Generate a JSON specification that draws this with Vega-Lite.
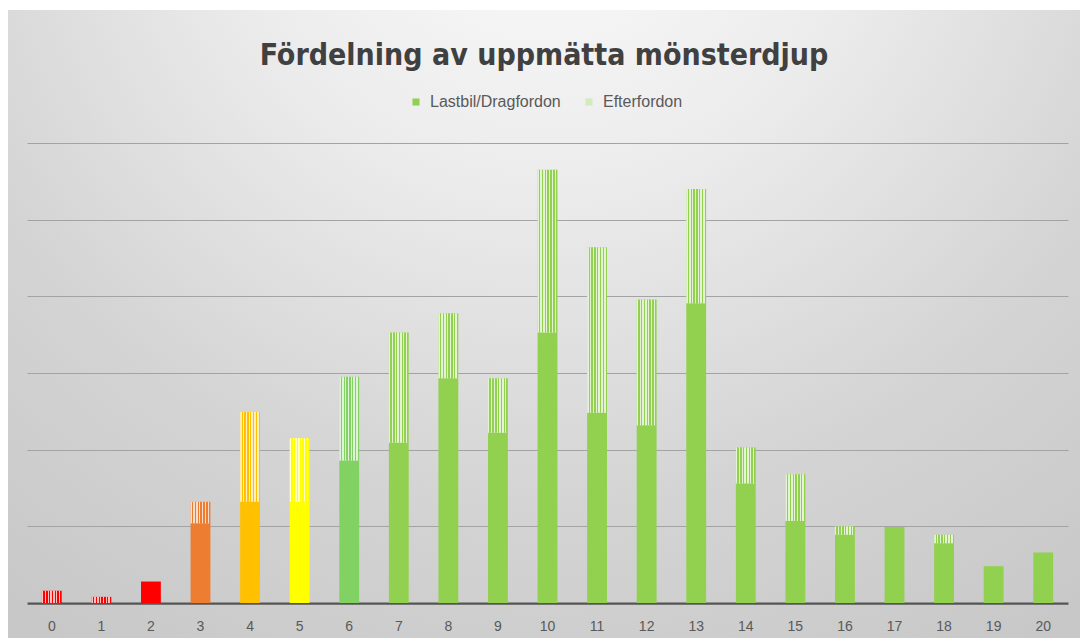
{
  "$schema": "https://vega.github.io/schema/vega-lite/v6.json",
  "width": 1072,
  "height": 628,
  "autosize": {"type": "none"},
  "padding": {"left": 8, "top": 10, "right": 0, "bottom": 0},
  "background": "#ffffff",
  "title": {
    "text": "Fördelning av uppmätta mönsterdjup",
    "font": "'DejaVu Sans Condensed', 'Liberation Sans Narrow', 'Open Sans', sans-serif",
    "fontSize": 30,
    "fontWeight": "bold",
    "color": "#404040",
    "anchor": "middle",
    "baseline": "alphabetic",
    "frame": "group",
    "offset": -85
  },
  "data": {
    "values": [
      {"djup": 0, "serie": "Lastbil/Dragfordon", "antal": 0},
      {"djup": 0, "serie": "Efterfordon", "antal": 1.6},
      {"djup": 1, "serie": "Lastbil/Dragfordon", "antal": 0},
      {"djup": 1, "serie": "Efterfordon", "antal": 0.8},
      {"djup": 2, "serie": "Lastbil/Dragfordon", "antal": 2.8},
      {"djup": 2, "serie": "Efterfordon", "antal": 0},
      {"djup": 3, "serie": "Lastbil/Dragfordon", "antal": 10.4},
      {"djup": 3, "serie": "Efterfordon", "antal": 2.8},
      {"djup": 4, "serie": "Lastbil/Dragfordon", "antal": 13.2},
      {"djup": 4, "serie": "Efterfordon", "antal": 11.7},
      {"djup": 5, "serie": "Lastbil/Dragfordon", "antal": 13.2},
      {"djup": 5, "serie": "Efterfordon", "antal": 8.3},
      {"djup": 6, "serie": "Lastbil/Dragfordon", "antal": 18.6},
      {"djup": 6, "serie": "Efterfordon", "antal": 10.9},
      {"djup": 7, "serie": "Lastbil/Dragfordon", "antal": 20.9},
      {"djup": 7, "serie": "Efterfordon", "antal": 14.4},
      {"djup": 8, "serie": "Lastbil/Dragfordon", "antal": 29.3},
      {"djup": 8, "serie": "Efterfordon", "antal": 8.5},
      {"djup": 9, "serie": "Lastbil/Dragfordon", "antal": 22.2},
      {"djup": 9, "serie": "Efterfordon", "antal": 7.1},
      {"djup": 10, "serie": "Lastbil/Dragfordon", "antal": 35.3},
      {"djup": 10, "serie": "Efterfordon", "antal": 21.2},
      {"djup": 11, "serie": "Lastbil/Dragfordon", "antal": 24.8},
      {"djup": 11, "serie": "Efterfordon", "antal": 21.6},
      {"djup": 12, "serie": "Lastbil/Dragfordon", "antal": 23.2},
      {"djup": 12, "serie": "Efterfordon", "antal": 16.4},
      {"djup": 13, "serie": "Lastbil/Dragfordon", "antal": 39.1},
      {"djup": 13, "serie": "Efterfordon", "antal": 14.9},
      {"djup": 14, "serie": "Lastbil/Dragfordon", "antal": 15.6},
      {"djup": 14, "serie": "Efterfordon", "antal": 4.7},
      {"djup": 15, "serie": "Lastbil/Dragfordon", "antal": 10.7},
      {"djup": 15, "serie": "Efterfordon", "antal": 6.1},
      {"djup": 16, "serie": "Lastbil/Dragfordon", "antal": 8.9},
      {"djup": 16, "serie": "Efterfordon", "antal": 1.1},
      {"djup": 17, "serie": "Lastbil/Dragfordon", "antal": 9.9},
      {"djup": 17, "serie": "Efterfordon", "antal": 0},
      {"djup": 18, "serie": "Lastbil/Dragfordon", "antal": 7.8},
      {"djup": 18, "serie": "Efterfordon", "antal": 1.1},
      {"djup": 19, "serie": "Lastbil/Dragfordon", "antal": 4.8},
      {"djup": 19, "serie": "Efterfordon", "antal": 0},
      {"djup": 20, "serie": "Lastbil/Dragfordon", "antal": 6.6},
      {"djup": 20, "serie": "Efterfordon", "antal": 0}
    ]
  },
  "transform": [
    {"stack": "antal", "groupby": ["djup"], "sort": [{"field": "serie", "order": "descending"}], "as": ["y0", "y1"]}
  ],
  "encoding": {
    "x": {
      "field": "djup",
      "type": "ordinal",
      "scale": {
        "domain": [0,1,2,3,4,5,6,7,8,9,10,11,12,13,14,15,16,17,18,19,20],
        "range": [19, 1060],
        "paddingInner": 0.6,
        "paddingOuter": 0.3
      },
      "axis": {
        "title": null,
        "labelAngle": 0,
        "labelFont": "Liberation Sans",
        "labelFontSize": 14,
        "labelColor": "#595959",
        "ticks": false,
        "labelPadding": 16,
        "domainColor": "#555555",
        "domainWidth": 2.25,
        "grid": false,
        "offset": -35
      }
    }
  },
  "layer": [
    {
      "transform": [{"filter": "datum.serie === 'Lastbil/Dragfordon'"}],
      "mark": {"type": "bar"},
      "encoding": {
        "y": {
          "field": "y0",
          "type": "quantitative",
          "scale": {"domain": [-4.565, 77.35], "nice": false, "zero": false},
          "axis": {
            "title": null,
            "labels": false,
            "ticks": false,
            "domain": false,
            "grid": true,
            "gridColor": "#a3a3a3",
            "gridWidth": 1,
            "values": [10, 20, 30, 40, 50, 60]
          }
        },
        "y2": {"field": "y1"},
        "fill": {
          "field": "djup",
          "type": "ordinal",
          "scale": {
            "domain": [0,1,2,3,4,5,6,7,8,9,10,11,12,13,14,15,16,17,18,19,20],
            "range": ["#FF0000","#FF0000","#FF0000","#ED7D31","#FFC000","#FFFF00","#82D163","#92D050","#92D050","#92D050","#92D050","#92D050","#92D050","#92D050","#92D050","#92D050","#92D050","#92D050","#92D050","#92D050","#92D050"]
          },
          "legend": null
        }
      }
    },
    {
      "transform": [{"filter": "datum.serie === 'Efterfordon'"}],
      "mark": {"type": "bar"},
      "encoding": {
        "y": {"field": "y0", "type": "quantitative"},
        "y2": {"field": "y1"},
        "fill": {"field": "djup", "type": "ordinal", "legend": null}
      }
    },
    {
      "transform": [{"filter": "datum.serie === 'Efterfordon'"}],
      "mark": {
        "type": "bar",
        "fill": {
          "gradient": "linear",
          "x1": 0, "y1": 0, "x2": 1, "y2": 0,
          "stops": [
            {"offset": 0, "color": "rgba(255,255,255,0.75)"},
            {"offset": 0.0714, "color": "rgba(255,255,255,0.75)"},
            {"offset": 0.0714, "color": "rgba(255,255,255,0)"},
            {"offset": 0.1429, "color": "rgba(255,255,255,0)"},
            {"offset": 0.1429, "color": "rgba(255,255,255,0.75)"},
            {"offset": 0.2143, "color": "rgba(255,255,255,0.75)"},
            {"offset": 0.2143, "color": "rgba(255,255,255,0)"},
            {"offset": 0.2857, "color": "rgba(255,255,255,0)"},
            {"offset": 0.2857, "color": "rgba(255,255,255,0.75)"},
            {"offset": 0.3571, "color": "rgba(255,255,255,0.75)"},
            {"offset": 0.3571, "color": "rgba(255,255,255,0)"},
            {"offset": 0.4286, "color": "rgba(255,255,255,0)"},
            {"offset": 0.4286, "color": "rgba(255,255,255,0.75)"},
            {"offset": 0.5, "color": "rgba(255,255,255,0.75)"},
            {"offset": 0.5, "color": "rgba(255,255,255,0)"},
            {"offset": 0.5714, "color": "rgba(255,255,255,0)"},
            {"offset": 0.5714, "color": "rgba(255,255,255,0.75)"},
            {"offset": 0.6429, "color": "rgba(255,255,255,0.75)"},
            {"offset": 0.6429, "color": "rgba(255,255,255,0)"},
            {"offset": 0.7143, "color": "rgba(255,255,255,0)"},
            {"offset": 0.7143, "color": "rgba(255,255,255,0.75)"},
            {"offset": 0.7857, "color": "rgba(255,255,255,0.75)"},
            {"offset": 0.7857, "color": "rgba(255,255,255,0)"},
            {"offset": 0.8571, "color": "rgba(255,255,255,0)"},
            {"offset": 0.8571, "color": "rgba(255,255,255,0.75)"},
            {"offset": 0.9286, "color": "rgba(255,255,255,0.75)"},
            {"offset": 0.9286, "color": "rgba(255,255,255,0)"},
            {"offset": 1, "color": "rgba(255,255,255,0)"}
          ]
        }
      },
      "encoding": {
        "y": {"field": "y0", "type": "quantitative"},
        "y2": {"field": "y1"}
      }
    },
    {
      "mark": {"type": "bar"},
      "encoding": {
        "y": {"datum": 0, "type": "quantitative"},
        "y2": {"datum": 0},
        "color": {
          "field": "serie",
          "type": "nominal",
          "scale": {"domain": ["Lastbil/Dragfordon", "Efterfordon"], "range": ["#92D050", "#D3EBBD"]},
          "legend": {
            "title": null,
            "orient": "none",
            "legendX": 400,
            "legendY": 84,
            "direction": "horizontal",
            "symbolType": "square",
            "symbolSize": 50,
            "symbolStrokeWidth": 0,
            "labelFont": "Liberation Sans",
            "labelFontSize": 16,
            "labelColor": "#595959",
            "labelOffset": 6,
            "columnPadding": 20
          }
        }
      }
    }
  ],
  "config": {
    "view": {
      "stroke": null,
      "fill": {
        "gradient": "radial",
        "x1": 0.503, "y1": 0.07, "r1": 0,
        "x2": 0.503, "y2": 0.07, "r2": 0.85,
        "stops": [
          {"offset": 0, "color": "#fcfcfc"},
          {"offset": 0.35, "color": "#ececec"},
          {"offset": 0.7, "color": "#d4d4d4"},
          {"offset": 1, "color": "#c8c8c8"}
        ]
      }
    }
  }
}
